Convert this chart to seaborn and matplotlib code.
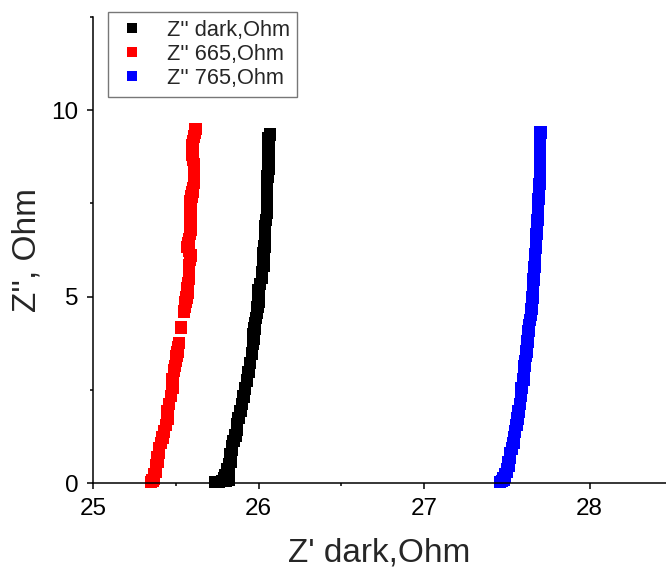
import matplotlib
matplotlib.use("Agg")
import matplotlib.pyplot as plt
from matplotlib.ticker import AutoMinorLocator
import seaborn as sns
import pandas as pd

# ---- data ----
dark_y = [0.02, 0.03, 0.05, 0.07, 0.09, 0.12, 0.16, 0.20, 0.25, 0.30,
          0.36, 0.42, 0.50, 0.58, 0.67, 0.77, 0.88, 1.00, 1.13, 1.27,
          1.42, 1.58, 1.75, 1.93, 2.12, 2.32, 2.53, 2.75, 2.98, 3.22,
          3.47, 3.73, 3.87, 4.00, 4.14, 4.28, 4.42, 4.57, 4.72, 4.87,
          5.02, 5.18, 5.34, 5.50, 5.66, 5.83, 6.00, 6.17, 6.34, 6.52,
          6.70, 6.88, 7.06, 7.25, 7.44, 7.63, 7.82, 8.02, 8.22, 8.42,
          8.62, 8.83, 9.04, 9.25, 9.35]
dark_x = [25.74, 25.76, 25.78, 25.80, 25.82, 25.79, 25.81, 25.80, 25.81, 25.82,
          25.81, 25.82, 25.82, 25.83, 25.83, 25.83, 25.84, 25.84, 25.85, 25.86,
          25.87, 25.87, 25.88, 25.89, 25.90, 25.91, 25.92, 25.93, 25.94, 25.95,
          25.96, 25.965, 25.97, 25.97, 25.975, 25.98, 25.985, 25.99, 25.995, 26.00,
          26.00, 26.00, 26.01, 26.02, 26.02, 26.03, 26.03, 26.03, 26.035, 26.04,
          26.04, 26.04, 26.045, 26.05, 26.05, 26.05, 26.05, 26.05, 26.055, 26.06,
          26.06, 26.06, 26.06, 26.06, 26.07]

r665_y = [0.02, 0.05, 0.08, 0.12, 0.17, 0.23, 0.30, 0.38, 0.47, 0.57,
          0.68, 0.80, 0.93, 1.07, 1.22, 1.38, 1.55, 1.73, 1.92, 2.12,
          2.33, 2.55, 2.78, 3.02, 3.14, 3.27, 3.40, 3.52, 3.64, 3.75,
          4.17, 4.60, 4.72, 4.85, 4.98, 5.10, 5.22, 5.35, 5.48, 5.60,
          5.72, 5.85, 5.98, 6.10, 6.22, 6.33, 6.44, 6.55, 6.68, 6.80,
          6.92, 7.05, 7.18, 7.30, 7.42, 7.55, 7.68, 7.80, 7.92, 8.05,
          8.18, 8.30, 8.42, 8.55, 8.68, 8.80, 8.92, 9.05, 9.18, 9.30,
          9.40, 9.50]
r665_x = [25.35, 25.36, 25.36, 25.37, 25.37, 25.37, 25.38, 25.38, 25.38, 25.39,
          25.39, 25.40, 25.40, 25.41, 25.42, 25.43, 25.44, 25.45, 25.45, 25.46,
          25.47, 25.48, 25.48, 25.49, 25.495, 25.50, 25.505, 25.51, 25.515, 25.52,
          25.53, 25.55, 25.555, 25.56, 25.565, 25.57, 25.57, 25.575, 25.58, 25.58,
          25.58, 25.58, 25.585, 25.59, 25.58, 25.57, 25.575, 25.58, 25.585, 25.59,
          25.59, 25.59, 25.59, 25.59, 25.59, 25.59, 25.595, 25.60, 25.605, 25.61,
          25.61, 25.61, 25.61, 25.61, 25.605, 25.60, 25.60, 25.60, 25.605, 25.61,
          25.615, 25.62]

r765_y = [0.02, 0.05, 0.08, 0.12, 0.17, 0.23, 0.30, 0.38, 0.47, 0.57,
          0.68, 0.80, 0.93, 1.07, 1.22, 1.38, 1.55, 1.73, 1.92, 2.12,
          2.33, 2.55, 2.78, 3.02, 3.14, 3.27, 3.40, 3.53, 3.66, 3.80,
          3.94, 4.08, 4.22, 4.37, 4.52, 4.67, 4.82, 4.98, 5.14, 5.30,
          5.46, 5.63, 5.80, 5.97, 6.14, 6.32, 6.50, 6.68, 6.86, 7.05,
          7.24, 7.43, 7.62, 7.82, 8.02, 8.22, 8.42, 8.63, 8.84, 9.05,
          9.22, 9.40]
r765_x = [27.46, 27.47, 27.48, 27.48, 27.49, 27.49, 27.50, 27.50, 27.51, 27.51,
          27.52, 27.52, 27.53, 27.54, 27.545, 27.55, 27.56, 27.565, 27.57, 27.58,
          27.585, 27.59, 27.60, 27.605, 27.608, 27.61, 27.615, 27.62, 27.622, 27.625,
          27.628, 27.63, 27.635, 27.64, 27.645, 27.65, 27.652, 27.655, 27.658, 27.66,
          27.662, 27.665, 27.668, 27.67, 27.672, 27.675, 27.678, 27.68, 27.682, 27.685,
          27.688, 27.69, 27.692, 27.695, 27.698, 27.70, 27.70, 27.70, 27.70, 27.70,
          27.702, 27.705]

labels = ["Z'' dark,Ohm", "Z'' 665,Ohm", "Z'' 765,Ohm"]
colors = ["#000000", "#ff0000", "#0000ff"]
x_ticks = [25, 26, 27, 28]
y_ticks = [0, 5, 10]

sns.set_style("ticks")
plt.rcParams["font.family"] = ["Liberation Sans", "DejaVu Sans"]

df = pd.concat([
    pd.DataFrame({"x": dark_x, "y": dark_y, "series": labels[0]}),
    pd.DataFrame({"x": r665_x, "y": r665_y, "series": labels[1]}),
    pd.DataFrame({"x": r765_x, "y": r765_y, "series": labels[2]}),
], ignore_index=True)

fig = plt.figure(figsize=(6.66, 5.71), dpi=100)
ax = fig.add_axes([93 / 666, (571 - 483) / 571, 573 / 666, 466 / 571])

sns.scatterplot(data=df, x="x", y="y", hue="series", hue_order=labels,
                palette=colors, marker="s", s=80, linewidth=0, ax=ax,
                clip_on=False, legend=True)

ax.set_xlim(25, 28.462)
ax.set_ylim(0, 12.5)
ax.set_xticks(x_ticks)
ax.set_yticks(y_ticks)
ax.xaxis.set_minor_locator(AutoMinorLocator(2))
ax.yaxis.set_minor_locator(AutoMinorLocator(2))

for side in ["top", "right"]:
    ax.spines[side].set_visible(False)
for side in ["left", "bottom"]:
    ax.spines[side].set_linewidth(1.1)
    ax.spines[side].set_color("black")

ax.tick_params(which="major", direction="out", length=4.5, width=1.1,
               labelsize=17.5, pad=6, colors="black")
ax.tick_params(which="minor", direction="out", length=2.5, width=1.1,
               colors="black")

ax.set_xlabel("Z' dark,Ohm", fontsize=24, labelpad=13)
ax.set_ylabel("Z'', Ohm", fontsize=24, labelpad=6)

handles, lbls = ax.get_legend_handles_labels()
leg = ax.legend(handles, lbls, loc="upper left", bbox_to_anchor=(0.026, 1.011),
                borderaxespad=0, frameon=True, fancybox=False,
                fontsize=15.7, labelspacing=0.15, handlelength=1.5,
                handletextpad=0.85, borderpad=0.35, markerscale=0.8)
leg.get_frame().set_edgecolor("#555555")
leg.get_frame().set_linewidth(1.0)

fig.savefig("out.png", dpi=100)
